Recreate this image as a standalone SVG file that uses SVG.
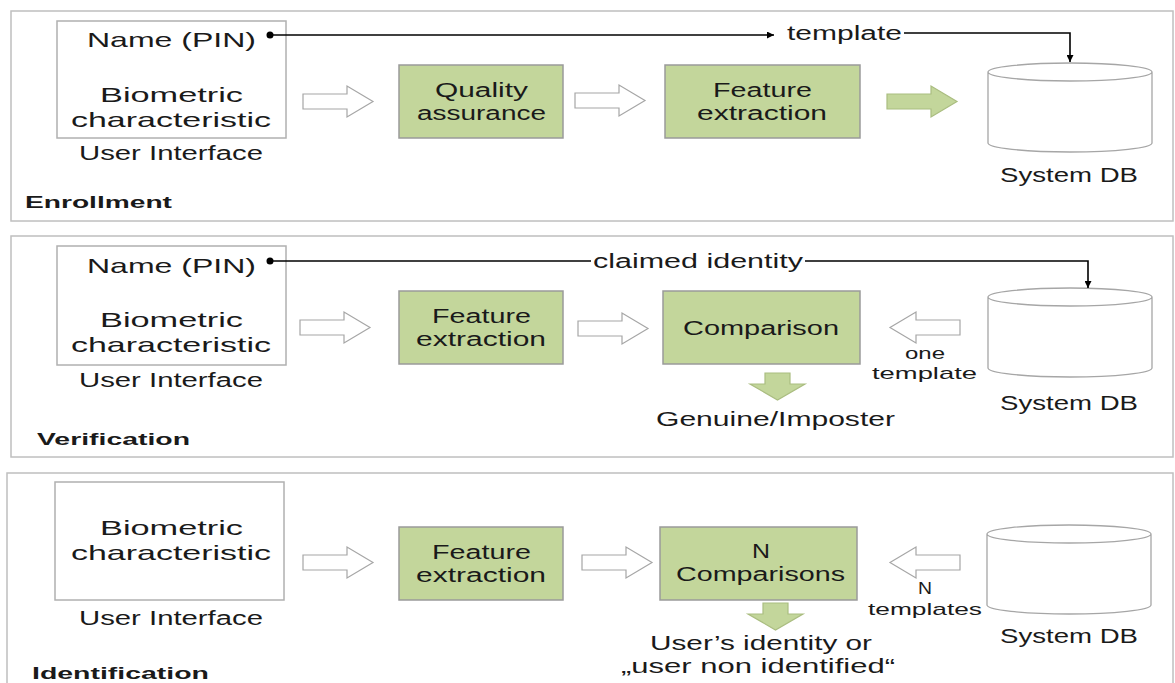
<svg xmlns="http://www.w3.org/2000/svg" xmlns:xlink="http://www.w3.org/1999/xlink" width="1175" height="683" viewBox="0 0 1175 683">
<style>
.panel{fill:#fff;stroke:#bfbfbf;stroke-width:1.5}
.ui{fill:#fff;stroke:#b0b0b0;stroke-width:1.5}
.proc{fill:#c3d69b;stroke:#9a9a9a;stroke-width:1.5}
.hollow{fill:#fff;stroke:#a6a6a6;stroke-width:1.2}
.green{fill:#c3d69b;stroke:#aabd80;stroke-width:1.2}
.db{fill:#fff;stroke:#a6a6a6;stroke-width:1.3}
.conn{fill:none;stroke:#000;stroke-width:1.6}
text{font-family:"Liberation Sans",Arial,sans-serif;fill:#1a1a1a;font-size:20px}
.lg{font-size:21px}
.sm{font-size:17px}
.b{font-weight:bold;font-size:17px}
</style>
<defs>
<marker id="ah" viewBox="0 0 10 10" refX="10" refY="5" markerWidth="7" markerHeight="7" markerUnits="userSpaceOnUse" orient="auto">
<path d="M0,0 L10,5 L0,10 Z" fill="#000"/>
</marker>
<path id="hr" d="M0,8 H44 V0 L70,15.5 L44,31 V23 H0 Z"/>
<path id="hl" d="M70,8 H26 V0 L0,15.5 L26,31 V23 H70 Z"/>
<path id="gd" d="M15,0 H40 V11 H55 L27.5,27 L0,11 H15 Z"/>
<path id="cyl" d="M-82,0 V71 A82,9 0 0 0 82,71 V0 A82,9 0 0 0 -82,0 A82,9 0 0 0 82,0"/>
</defs>

<g id="panels">
<rect class="panel" x="11" y="11" width="1162" height="210"/>
<rect class="panel" x="11" y="236" width="1162" height="221"/>
<rect class="panel" x="7" y="473" width="1166" height="230"/>
</g>

<!-- Enrollment -->
<g id="enroll-ui">
<rect class="ui" x="57" y="21" width="229" height="117"/>
<text class="lg" x="87" y="47" textLength="169" lengthAdjust="spacingAndGlyphs">Name (PIN)</text>
<text class="lg" x="100" y="102" textLength="143" lengthAdjust="spacingAndGlyphs">Biometric</text>
<text class="lg" x="71" y="127" textLength="200" lengthAdjust="spacingAndGlyphs">characteristic</text>
<text x="79" y="160" textLength="184" lengthAdjust="spacingAndGlyphs">User Interface</text>
</g>
<g id="enroll-qa">
<rect class="proc" x="399" y="65" width="164" height="73"/>
<text x="435" y="97" textLength="93" lengthAdjust="spacingAndGlyphs">Quality</text>
<text x="417" y="120" textLength="129" lengthAdjust="spacingAndGlyphs">assurance</text>
</g>
<g id="enroll-fe">
<rect class="proc" x="665" y="65" width="195" height="73"/>
<text x="713" y="97" textLength="99" lengthAdjust="spacingAndGlyphs">Feature</text>
<text x="697" y="120" textLength="130" lengthAdjust="spacingAndGlyphs">extraction</text>
</g>
<g id="enroll-db">
<use href="#cyl" class="db" x="1070" y="72"/>
<text x="1000" y="182" textLength="138" lengthAdjust="spacingAndGlyphs">System DB</text>
</g>
<g id="enroll-label">
<text class="b" x="25" y="208" textLength="147" lengthAdjust="spacingAndGlyphs">Enrollment</text>
<text x="787" y="40" textLength="115" lengthAdjust="spacingAndGlyphs">template</text>
</g>

<!-- Verification -->
<g id="verif-ui">
<rect class="ui" x="57" y="246" width="229" height="119"/>
<text class="lg" x="87" y="273" textLength="169" lengthAdjust="spacingAndGlyphs">Name (PIN)</text>
<text class="lg" x="100" y="327" textLength="143" lengthAdjust="spacingAndGlyphs">Biometric</text>
<text class="lg" x="71" y="352" textLength="200" lengthAdjust="spacingAndGlyphs">characteristic</text>
<text x="79" y="387" textLength="184" lengthAdjust="spacingAndGlyphs">User Interface</text>
</g>
<g id="verif-fe">
<rect class="proc" x="399" y="291" width="164" height="73"/>
<text x="432" y="323" textLength="99" lengthAdjust="spacingAndGlyphs">Feature</text>
<text x="416" y="346" textLength="130" lengthAdjust="spacingAndGlyphs">extraction</text>
</g>
<g id="verif-cmp">
<rect class="proc" x="663" y="291" width="197" height="73"/>
<text x="683" y="335" textLength="156" lengthAdjust="spacingAndGlyphs">Comparison</text>
</g>
<g id="verif-db">
<use href="#cyl" class="db" x="1070" y="297"/>
<text x="1000" y="410" textLength="138" lengthAdjust="spacingAndGlyphs">System DB</text>
</g>
<g id="verif-labels">
<text class="b" x="37" y="445" textLength="153" lengthAdjust="spacingAndGlyphs">Verification</text>
<text x="593" y="268" textLength="210" lengthAdjust="spacingAndGlyphs">claimed identity</text>
<text class="sm" x="905" y="359" textLength="40" lengthAdjust="spacingAndGlyphs">one</text>
<text class="sm" x="872" y="379" textLength="105" lengthAdjust="spacingAndGlyphs">template</text>
<text x="656" y="426" textLength="239" lengthAdjust="spacingAndGlyphs">Genuine/Imposter</text>
</g>

<!-- Identification -->
<g id="ident-ui">
<rect class="ui" x="55" y="482" width="229" height="118"/>
<text class="lg" x="100" y="535" textLength="143" lengthAdjust="spacingAndGlyphs">Biometric</text>
<text class="lg" x="71" y="560" textLength="200" lengthAdjust="spacingAndGlyphs">characteristic</text>
<text x="79" y="625" textLength="184" lengthAdjust="spacingAndGlyphs">User Interface</text>
</g>
<g id="ident-fe">
<rect class="proc" x="399" y="527" width="164" height="73"/>
<text x="432" y="559" textLength="99" lengthAdjust="spacingAndGlyphs">Feature</text>
<text x="416" y="582" textLength="130" lengthAdjust="spacingAndGlyphs">extraction</text>
</g>
<g id="ident-cmp">
<rect class="proc" x="660" y="527" width="197" height="73"/>
<text x="752" y="558" textLength="18" lengthAdjust="spacingAndGlyphs">N</text>
<text x="676" y="581" textLength="169" lengthAdjust="spacingAndGlyphs">Comparisons</text>
</g>
<g id="ident-db">
<use href="#cyl" class="db" x="1069" y="534"/>
<text x="1000" y="643" textLength="138" lengthAdjust="spacingAndGlyphs">System DB</text>
</g>
<g id="ident-labels">
<text class="b" x="32" y="679" textLength="177" lengthAdjust="spacingAndGlyphs">Identification</text>
<text class="sm" x="918" y="594" textLength="14" lengthAdjust="spacingAndGlyphs">N</text>
<text class="sm" x="868" y="615" textLength="114" lengthAdjust="spacingAndGlyphs">templates</text>
<text x="650" y="650" textLength="222" lengthAdjust="spacingAndGlyphs">User’s identity or</text>
<text x="621" y="673" textLength="274" lengthAdjust="spacingAndGlyphs">„user non identified“</text>
</g>

<g id="connectors">
<circle cx="270" cy="35" r="3.5" fill="#000"/>
<path class="conn" d="M270,35 H774" marker-end="url(#ah)"/>
<path class="conn" d="M904,33 H1070 V62" marker-end="url(#ah)"/>
<circle cx="270" cy="261" r="3.5" fill="#000"/>
<path class="conn" d="M270,261 H591"/>
<path class="conn" d="M805,261 H1088 V288" marker-end="url(#ah)"/>

<use href="#hr" class="hollow" x="303" y="86"/>
<use href="#hr" class="hollow" x="575" y="85"/>
<use href="#hr" class="green" x="887" y="86"/>

<use href="#hr" class="hollow" x="300" y="312"/>
<use href="#hr" class="hollow" x="578" y="313"/>
<use href="#hl" class="hollow" x="890" y="312"/>
<use href="#gd" class="green" x="750" y="373"/>

<use href="#hr" class="hollow" x="303" y="547"/>
<use href="#hr" class="hollow" x="582" y="547"/>
<use href="#hl" class="hollow" x="890" y="547"/>
<use href="#gd" class="green" x="748" y="603"/>
</g>
</svg>
